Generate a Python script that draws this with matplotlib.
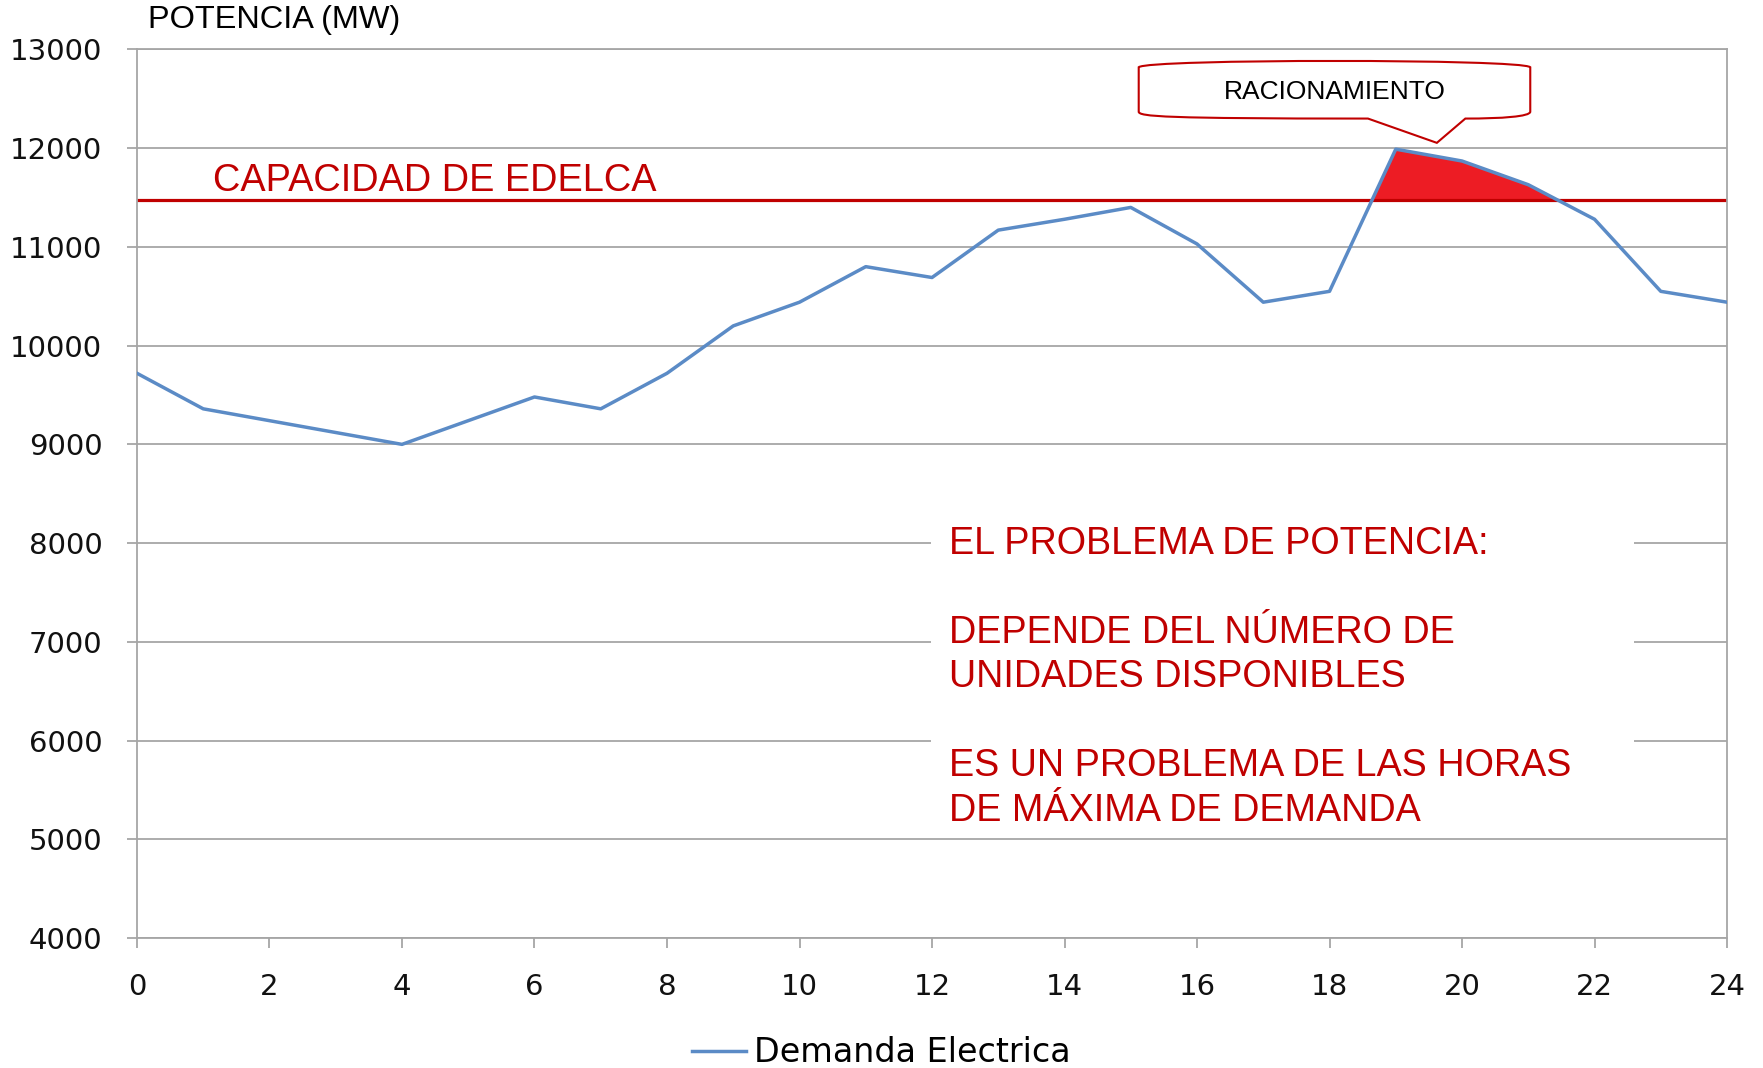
## Demanda electrica vs capacidad de EDELCA
import numpy as np
import matplotlib.pyplot as plt
from matplotlib.patches import Rectangle, PathPatch
from matplotlib.path import Path

# Hourly demand (MW)
hours = list(range(25))
demanda = [9720, 9360, 9240, 9120, 9000, 9240, 9480, 9360, 9720, 10200,
           10440, 10800, 10690, 11170, 11280, 11400, 11030, 10440, 10550, 11990,
           11870, 11630, 11280, 10550, 10440]
capacidad = 11480

y_ticks = [4000, 5000, 6000, 7000, 8000, 9000, 10000, 11000, 12000, 13000]
x_ticks = list(range(0, 25, 2))

blue = '#5B8BC6'
red = '#C00000'
gray = '#A6A6A6'

fig = plt.figure(figsize=(17.63, 10.68), dpi=100)
ax = fig.add_axes([0.0777, 0.1217, 0.9019, 0.832])

x = np.array(hours)
y = np.array(demanda)

# red area above the capacity
ax.fill_between(x, capacidad, y, where=y > capacidad, interpolate=True,
                color='#ED1C24', linewidth=0, zorder=2)
ax.plot(x, y, color='white', lw=1, ls=(0, (2, 2)), zorder=2.2)
ax.axhline(capacidad, color=red, lw=2.3, zorder=2.5)
ax.plot(x, y, color=blue, lw=2.5, zorder=3, label='Demanda Electrica')

ax.text(1.15, capacidad + 5, 'CAPACIDAD DE EDELCA', color=red,
        fontsize=27.3, family='Liberation Sans', va='bottom')

# white box behind the red note
ax.add_patch(Rectangle((11.98, 5150), 10.61, 3150, facecolor='white',
                       edgecolor='none', zorder=1))
ax.text(12.25, 6640,
        'EL PROBLEMA DE POTENCIA:\n\nDEPENDE DEL NÚMERO DE\nUNIDADES DISPONIBLES\n\n'
        'ES UN PROBLEMA DE LAS HORAS\nDE MÁXIMA DE DEMANDA',
        color=red, fontsize=27.2, family='Liberation Sans', va='center',
        ha='left', linespacing=1.3, zorder=4)

# callout "RACIONAMIENTO"
verts = [(15.12, 12370), (15.12, 12820),
         (15.25, 12905), (20.9, 12905), (21.03, 12820),
         (21.03, 12370),
         (21.03, 12320), (20.6, 12300), (20.05, 12300),
         (19.62, 12054), (18.58, 12300),
         (15.5, 12300), (15.12, 12320), (15.12, 12370),
         (15.12, 12370)]
codes = [Path.MOVETO, Path.LINETO,
         Path.CURVE4, Path.CURVE4, Path.CURVE4,
         Path.LINETO,
         Path.CURVE4, Path.CURVE4, Path.CURVE4,
         Path.LINETO, Path.LINETO,
         Path.CURVE4, Path.CURVE4, Path.CURVE4,
         Path.CLOSEPOLY]
ax.add_patch(PathPatch(Path(verts, codes), facecolor='white', edgecolor=red,
                       lw=1.5, zorder=5))
ax.text(18.08, 12570, 'RACIONAMIENTO', fontsize=19, family='Liberation Sans',
        ha='center', va='center', zorder=6)

ax.set_xlim(0, 24)
ax.set_ylim(4000, 13000)
ax.set_xticks(x_ticks)
ax.set_yticks(y_ticks)
ax.grid(axis='y', color=gray, lw=1.3)
ax.set_axisbelow(True)
for s in ax.spines.values():
    s.set_color(gray)
    s.set_linewidth(1.3)
ax.tick_params(axis='both', colors=gray, labelcolor='#111111', labelsize=21,
               length=7, width=1.3)
ax.tick_params(axis='y', pad=18)
ax.tick_params(axis='x', pad=18)

fig.text(148 / 1763, 1 - 20 / 1068, 'POTENCIA (MW)', fontsize=23.4,
         family='Liberation Sans', va='center', ha='left')

fig.legend(loc='center', bbox_to_anchor=(0.5, 1 - 1053 / 1068), frameon=False,
           fontsize=24, handlelength=1.6, handletextpad=0.25)

fig.savefig('out.png', dpi=100)
